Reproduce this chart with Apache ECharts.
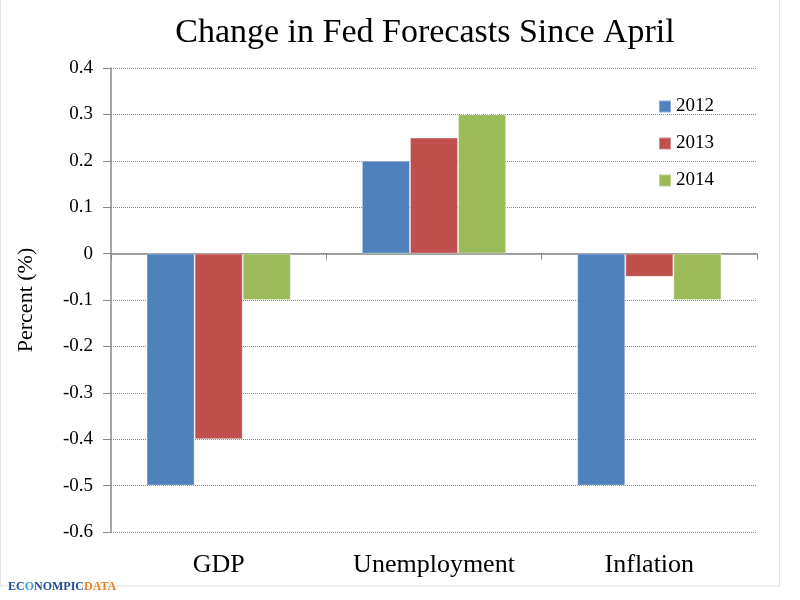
<!DOCTYPE html>
<html>
<head>
<meta charset="utf-8">
<script src="https://cdn.jsdelivr.net/npm/echarts@6/dist/echarts.min.js"></script>
<style>
  html, body { margin: 0; padding: 0; background: #fff; }
  #chart { width: 800px; height: 600px; }
</style>
</head>
<body>
<div id="chart"></div>
<script>
// values
const categories = ["GDP", "Unemployment", "Inflation"]
const years = ["2012", "2013", "2014"]
const values2012 = [-0.5, 0.2, -0.5]
const values2013 = [-0.4, 0.25, -0.05]
const values2014 = [-0.1, 0.3, -0.1]
const colors = ["#4F81BD", "#C0504D", "#9BBB59"]

const serif = "'Liberation Serif', 'DejaVu Serif', serif"

const chart = echarts.init(document.getElementById("chart"))

const seriesValues = [values2012, values2013, values2014]

const option = {
    animation: false,
    backgroundColor: "#fff",
    color: colors,
    title: {
        text: "Change in Fed Forecasts Since April",
        left: 420,
        top: 11,
        textAlign: "center",
        textStyle: {fontFamily: serif, fontSize: 34, fontWeight: "normal", color: "#000"}
    },
    legend: {
        orient: "vertical",
        left: 653,
        top: 92,
        itemWidth: 12,
        itemHeight: 12,
        itemGap: 18,
        icon: "rect",
        data: years,
        textStyle: {fontFamily: serif, fontSize: 19, color: "#000"}
    },
    grid: {left: 111, right: 43, top: 68, bottom: 68},
    xAxis: [
        {
            type: "category",
            data: categories,
            axisLine: {onZero: true, lineStyle: {color: "#888", width: 1.5}},
            axisTick: {show: true, length: 6, alignWithLabel: false, lineStyle: {color: "#888"}},
            axisLabel: {show: false}
        },
        {
            type: "category",
            data: categories,
            position: "bottom",
            axisLine: {show: false},
            axisTick: {show: false},
            axisLabel: {fontFamily: serif, fontSize: 26, color: "#000", margin: 20}
        }
    ],
    yAxis: {
        type: "value",
        min: -0.6,
        max: 0.4,
        interval: 0.1,
        name: "Percent (%)",
        nameLocation: "middle",
        nameGap: 74,
        nameTextStyle: {fontFamily: serif, fontSize: 22, color: "#000"},
        axisLine: {show: true, lineStyle: {color: "#888", width: 1.5}},
        axisTick: {show: true, length: 8, lineStyle: {color: "#888"}},
        axisLabel: {
            fontFamily: serif, fontSize: 19, color: "#000", margin: 18,
            formatter: (v) => String(Math.round(v * 10) / 10)
        },
        splitLine: {show: true, lineStyle: {color: "#5A8ED0", type: [1, 1], width: 1}}
    },
    series: years.map((y, i) => ({
        name: y,
        type: "bar",
        xAxisIndex: 0,
        data: seriesValues[i],
        barGap: "0%",
        barCategoryGap: "33%",
        itemStyle: {color: colors[i], borderColor: "rgba(255,255,255,0.35)", borderWidth: 1}
    })),
    graphic: [
        {
            type: "rect",
            shape: {x: 0.5, y: -5, width: 779, height: 591},
            style: {fill: "none", stroke: "#e2e2e2", lineWidth: 1},
            silent: true
        },
        {
            type: "text",
            left: 8,
            top: 581,
            style: {
                text: "{a|EC}{o|O}{a|NOMPIC}{b|DATA}",
                rich: {
                    a: {fontFamily: serif, fontSize: 12, fontWeight: "bold", fill: "#1F4E9A"},
                    o: {fontFamily: serif, fontSize: 12, fontWeight: "bold", fill: "#3FA0D8"},
                    b: {fontFamily: serif, fontSize: 12, fontWeight: "bold", fill: "#E8811E"}
                }
            }
        }
    ]
}

chart.setOption(option)
</script>
</body>
</html>
